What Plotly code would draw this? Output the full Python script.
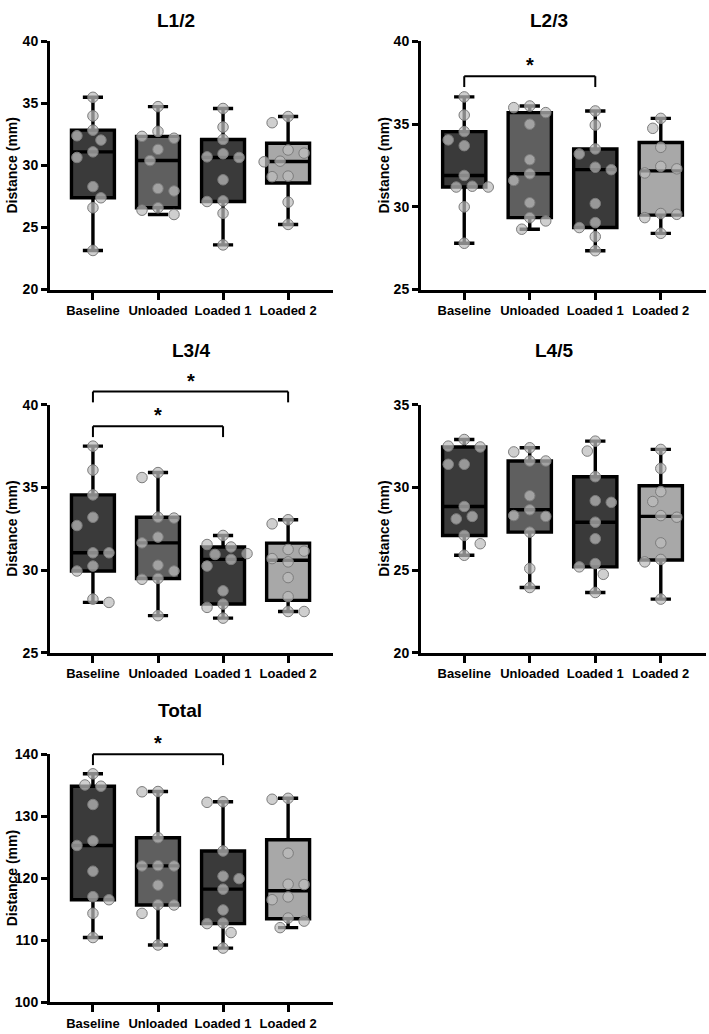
import numpy as np
import plotly.graph_objects as go

# ---------------- data ----------------
categories = ["Baseline", "Unloaded", "Loaded 1", "Loaded 2"]
panel_titles = ["L1/2", "L2/3", "L3/4", "L4/5", "Total"]

l12_values = [
    [35.5, 34.0, 32.85, 32.4, 32.05, 31.1, 30.65, 28.3, 27.4, 26.6, 23.15],
    [34.75, 32.75, 32.35, 32.2, 31.3, 30.4, 28.15, 27.95, 26.6, 26.4, 26.05],
    [34.6, 33.1, 32.1, 30.95, 30.7, 30.65, 28.85, 27.15, 27.1, 26.15, 23.6],
    [33.95, 33.45, 31.25, 31.0, 30.35, 30.3, 29.15, 29.1, 27.05, 25.25],
]
l23_values = [
    [36.65, 35.55, 34.55, 34.05, 33.7, 31.9, 31.25, 31.2, 31.2, 30.0, 27.8],
    [36.1, 36.0, 35.7, 35.0, 32.85, 32.0, 31.6, 30.25, 29.35, 29.15, 28.65],
    [35.8, 34.95, 33.5, 33.2, 32.4, 32.25, 30.2, 29.05, 28.75, 28.2, 27.35],
    [35.35, 34.75, 33.6, 32.45, 32.3, 32.05, 29.6, 29.55, 29.35, 28.4],
]
l34_values = [
    [37.5, 36.05, 34.55, 33.2, 32.7, 31.05, 31.05, 30.25, 29.95, 28.25, 28.05],
    [35.9, 35.6, 33.2, 33.15, 32.0, 31.65, 30.3, 29.95, 29.5, 29.45, 27.25],
    [32.1, 31.55, 31.4, 31.0, 30.95, 30.65, 30.25, 28.75, 27.95, 27.75, 27.1],
    [33.05, 32.8, 31.25, 31.15, 30.7, 30.5, 29.55, 28.4, 27.5, 27.5],
]
l45_values = [
    [32.9, 32.5, 32.45, 31.4, 31.4, 28.85, 28.25, 28.1, 27.1, 26.6, 25.9],
    [32.4, 32.15, 31.6, 31.6, 29.5, 28.65, 28.3, 28.25, 27.3, 25.1, 23.95],
    [32.8, 32.2, 30.65, 29.2, 29.1, 27.9, 26.9, 25.4, 25.2, 24.75, 23.65],
    [32.3, 31.15, 29.75, 29.15, 28.3, 28.2, 26.65, 25.65, 25.5, 23.25],
]
total_values = [
    [136.85, 135.05, 134.85, 131.9, 126.05, 125.3, 121.15, 117.05, 116.55, 114.35, 110.45],
    [134.0, 133.95, 126.55, 122.05, 122.0, 122.0, 118.9, 115.75, 115.7, 114.35, 109.25],
    [132.35, 132.25, 124.4, 120.35, 119.95, 118.25, 114.9, 112.8, 112.7, 111.25, 108.75],
    [132.9, 132.75, 124.05, 119.05, 119.0, 117.0, 116.55, 113.6, 113.1, 112.05],
]

y_ranges = [(20, 40), (25, 40), (25, 40), (20, 35), (100, 140)]
y_dticks = [5, 5, 5, 5, 10]

# significance brackets: (from category, to category, y value)
l12_sig = []
l23_sig = [(0, 2, 37.9)]
l34_sig = [(0, 2, 38.7), (0, 3, 40.8)]
l45_sig = []
total_sig = [(0, 2, 140.0)]

panels_values = [l12_values, l23_values, l34_values, l45_values, total_values]
panels_sig = [l12_sig, l23_sig, l34_sig, l45_sig, total_sig]

# ---------------- layout / style ----------------
W, H = 709, 1034
FONT = "Liberation Sans, Arial, sans-serif"
box_colors = ["#3a3a3a", "#5f5f5f", "#3a3a3a", "#a8a8a8"]
# plot areas in pixels: left, right, top, bottom
panel_px = [(50, 333, 34, 286), (421, 706, 34, 286),
            (50, 333, 403, 655), (421, 706, 403, 655),
            (50, 333, 758, 1010)]
title_px = [(176, 13), (549, 13), (191, 348), (554, 348), (180, 714)]
ytitle_x_px = [12, 384, 12, 384, 12]
x_range = [-0.66, 3.69]
MARKER = 10.5


def swarm(vals, ypx, xpx, diam=12.5, step=8.0):
    """Deterministic beeswarm offsets (in x data units)."""
    n = len(vals)
    order = sorted(range(n), key=lambda i: -vals[i])
    placed = []
    offs = [0.0] * n
    side = -1
    for i in order:
        y = vals[i] * ypx
        chosen = None
        for k in range(0, 8):
            cands = [0.0] if k == 0 else [side * k * step, -side * k * step]
            for c in cands:
                if all((c - px) ** 2 + (y - py) ** 2 >= diam ** 2 for px, py in placed):
                    chosen = c
                    break
            if chosen is not None:
                break
        if chosen is None:
            chosen = 0.0
        if chosen != 0:
            side = -side
        placed.append((chosen, y))
        offs[i] = chosen / xpx
    return offs


fig = go.Figure()
layout = dict(
    width=W, height=H, margin=dict(l=0, r=0, t=0, b=0),
    paper_bgcolor="white", plot_bgcolor="white",
    showlegend=False, boxmode="overlay",
    font=dict(family=FONT, color="black"),
    annotations=[], shapes=[],
)

for p in range(5):
    s = "" if p == 0 else str(p + 1)
    xa, ya = "x" + s, "y" + s
    l, r, t, b = panel_px[p]
    ymin, ymax = y_ranges[p]
    xpx = (r - l) / (x_range[1] - x_range[0])
    ypx = (b - t) / (ymax - ymin)

    for j, vals in enumerate(panels_values[p]):
        q1, med, q3 = np.percentile(vals, [25, 50, 75], method="weibull")
        fig.add_trace(go.Box(
            x=[j], q1=[q1], median=[med], q3=[q3],
            lowerfence=[min(vals)], upperfence=[max(vals)],
            orientation="v", boxpoints=False, width=0.66, whiskerwidth=0.47,
            fillcolor=box_colors[j], line=dict(color="black", width=3.4),
            xaxis=xa, yaxis=ya, hoverinfo="skip", showlegend=False,
        ))
    for j, vals in enumerate(panels_values[p]):
        offs = swarm(vals, ypx, xpx)
        fig.add_trace(go.Scatter(
            x=[j + o for o in offs], y=vals, mode="markers",
            marker=dict(size=MARKER, color="rgba(188,188,188,0.72)",
                        line=dict(color="#7c7c7c", width=1)),
            xaxis=xa, yaxis=ya, cliponaxis=False, hoverinfo="skip", showlegend=False,
        ))

    common = dict(showline=True, linewidth=3, linecolor="black", ticks="outside",
                  tickwidth=3, tickcolor="black", showgrid=False, zeroline=False,
                  fixedrange=True)
    layout["xaxis" + s] = dict(
        domain=[l / W, r / W], range=x_range, anchor=ya,
        tickmode="array", tickvals=list(range(len(categories))), ticktext=categories,
        ticklen=7, tickfont=dict(family=FONT, size=13, color="black", weight="bold"),
        **common)
    layout["yaxis" + s] = dict(
        domain=[1 - b / H, 1 - t / H], range=[ymin, ymax], anchor=xa,
        tick0=ymin, dtick=y_dticks[p], ticklen=6,
        tickfont=dict(family=FONT, size=14, color="black", weight="bold"),
        **common)

    # panel title
    tx, ty = title_px[p]
    layout["annotations"].append(dict(
        text=panel_titles[p], x=tx / W, y=1 - ty / H, xref="paper", yref="paper",
        xanchor="center", yanchor="middle", showarrow=False,
        font=dict(family=FONT, size=19, color="black", weight="bold")))
    # y-axis title
    layout["annotations"].append(dict(
        text="Distance (mm)", x=ytitle_x_px[p] / W, y=1 - (t + b) / 2 / H,
        xref="paper", yref="paper", xanchor="center", yanchor="middle",
        textangle=-90, showarrow=False,
        font=dict(family=FONT, size=14, color="black", weight="bold")))

    # significance brackets
    drop = 11.0 / (b - t)
    for a, c, v in panels_sig[p]:
        f = (v - ymin) / (ymax - ymin)
        yd = ya + " domain"
        for (x0, y0, x1, y1) in [(a, f - drop, a, f), (a, f, c, f), (c, f, c, f - drop)]:
            layout["shapes"].append(dict(
                type="line", xref=xa, yref=yd, x0=x0, y0=y0, x1=x1, y1=y1,
                line=dict(color="black", width=2)))
        layout["annotations"].append(dict(
            text="*", x=(a + c) / 2, y=f, xref=xa, yref=yd,
            xanchor="center", yanchor="bottom", yshift=-2, showarrow=False,
            font=dict(family=FONT, size=20, color="black", weight="bold")))

fig.update_layout(**layout)
fig.write_html("out.html")
